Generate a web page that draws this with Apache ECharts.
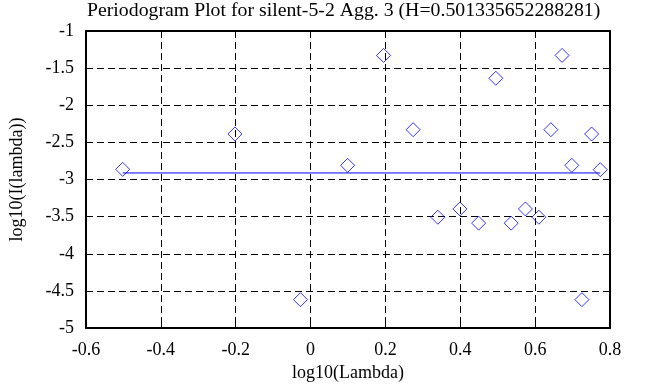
<!DOCTYPE html>
<html><head><meta charset="utf-8">
<script src="https://cdn.jsdelivr.net/npm/echarts@6/dist/echarts.min.js"></script>
<style>html,body{margin:0;padding:0;background:#fff}#c{width:653px;height:387px}</style>
</head><body><div id="c"></div>
<script>
const titleText = 'Periodogram Plot for silent-5-2 Agg. 3 (H=0.501335652288281)';
const xName = 'log10(Lambda)';
const yName = 'log10(I(lambda))';
const pointsX = [-0.502, -0.202, -0.027, 0.099, 0.195, 0.274, 0.340, 0.399, 0.449, 0.495, 0.536, 0.574, 0.610, 0.642, 0.672, 0.698, 0.725, 0.751, 0.774];
const pointsY = [-2.863, -2.387, -4.617, -2.809, -1.329, -2.329, -3.507, -3.396, -3.587, -1.636, -3.587, -3.396, -3.507, -2.329, -1.329, -2.809, -4.617, -2.387, -2.867];
const fitX = [-0.502, 0.774];
const fitY = [-2.911, -2.911];

const font = 'Liberation Serif';
const scatterData = pointsX.map((x, i) => [x, pointsY[i]]);
const fitData = fitX.map((x, i) => [x, fitY[i]]);
const grid = {left: 82, right: 43, top: 31, bottom: 56};
const dashed = {show: true, lineStyle: {color: '#000', type: [7, 4], width: 1}};
const chart = echarts.init(document.getElementById('c'), null, {renderer: 'canvas'});
chart.setOption({
  animation: false,
  backgroundColor: '#fff',
  title: {text: titleText, left: 87, top: 1, padding: 0, textStyle: {fontFamily: font, fontSize: 19.8, fontWeight: 'normal', color: '#000'}},
  grid: grid,
  xAxis: [{
    type: 'value', min: -0.6, max: 0.8, interval: 0.2, position: 'bottom',
    name: xName, nameLocation: 'middle', nameGap: 28,
    nameTextStyle: {fontFamily: font, fontSize: 18, color: '#000'},
    axisLine: {show: true, onZero: false, lineStyle: {color: '#000', width: 2}},
    axisTick: {show: true, inside: true, length: 6, lineStyle: {color: '#000', width: 1}},
    axisLabel: {fontFamily: font, fontSize: 18, color: '#000', margin: 13},
    splitLine: dashed
  }, {
    type: 'value', min: -0.6, max: 0.8, interval: 0.2, position: 'top',
    axisLine: {show: true, onZero: false, lineStyle: {color: '#000', width: 2}},
    axisTick: {show: true, inside: true, length: 6, lineStyle: {color: '#000', width: 1}},
    axisLabel: {show: false}, splitLine: {show: false}
  }],
  yAxis: [{
    type: 'value', min: -5, max: -1, interval: 0.5, position: 'left',
    name: yName, nameLocation: 'middle', nameGap: 60,
    nameTextStyle: {fontFamily: font, fontSize: 18, color: '#000'},
    axisLine: {show: true, onZero: false, lineStyle: {color: '#000', width: 2}},
    axisTick: {show: true, inside: true, length: 6, lineStyle: {color: '#000', width: 1}},
    axisLabel: {fontFamily: font, fontSize: 18, color: '#000', margin: 12, padding: [6, 0, 0, 0]},
    splitLine: dashed
  }, {
    type: 'value', min: -5, max: -1, interval: 0.5, position: 'right',
    axisLine: {show: true, onZero: false, lineStyle: {color: '#000', width: 2}},
    axisTick: {show: true, inside: true, length: 6, lineStyle: {color: '#000', width: 1}},
    axisLabel: {show: false}, splitLine: {show: false}
  }],
  series: [{
    type: 'line', data: fitData, symbol: 'none', xAxisIndex: 0, yAxisIndex: 0,
    lineStyle: {color: '#0000ff', width: 1}, z: 3
  }, {
    type: 'scatter', data: scatterData, symbol: 'diamond', symbolSize: [14, 14], xAxisIndex: 0, yAxisIndex: 0,
    itemStyle: {color: 'transparent', borderColor: '#0000ff', borderWidth: 1}, z: 4
  }]
});
</script></body></html>
